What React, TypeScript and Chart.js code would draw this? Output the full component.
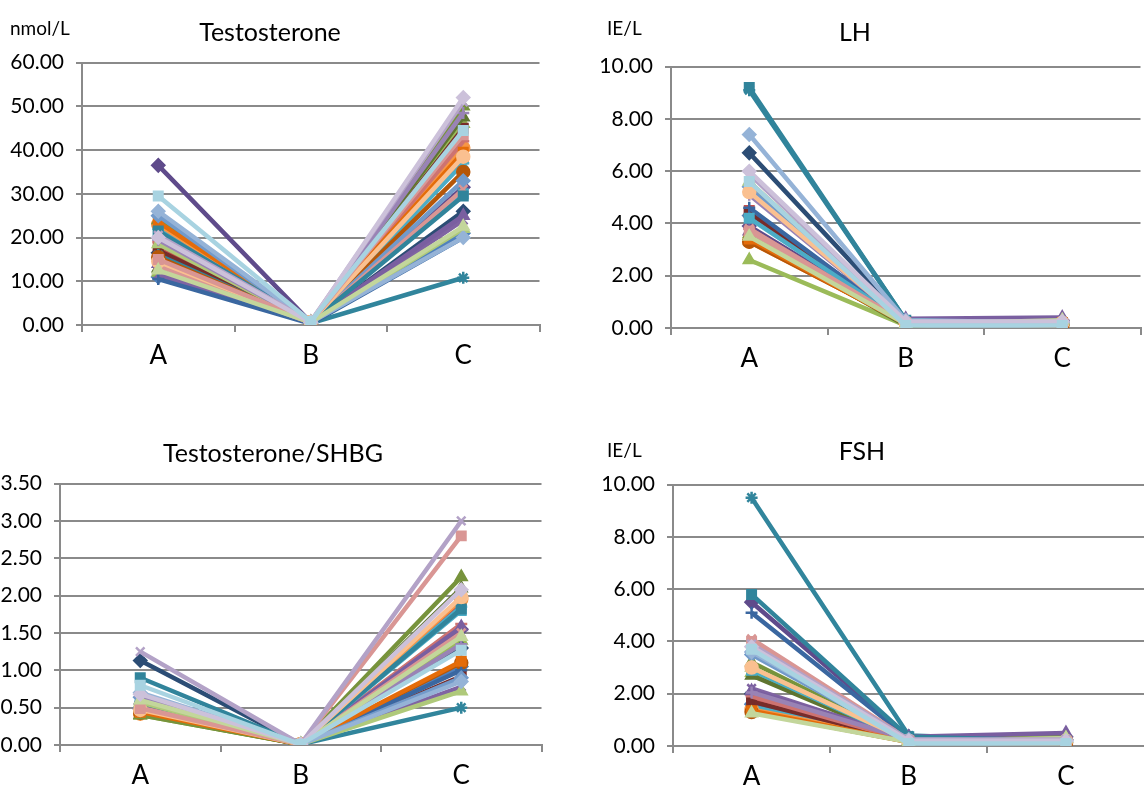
import React, { useEffect, useRef } from 'react';
import { Chart, registerables } from 'chart.js';

Chart.register(...registerables);

const FONT = 'Lato, "Open Sans", "DejaVu Sans", sans-serif';
const GRID = '#8A8A8A';

const categories = ['A', 'B', 'C'];

const subjectColors = [
  '#4F81BD', '#C0504D', '#9BBB59', '#8064A2', '#4BACC6', '#F79646',
  '#2C4D75', '#772C2A', '#5F7530', '#5F4B8B', '#31859C', '#B65708',
  '#3A67A0', '#CD7371', '#77933C', '#7A5FA0', '#4BACC6', '#E46C0A',
  '#729ACA', '#D99694', '#AFC97A', '#9983B5', '#31849B', '#FAC090',
  '#95B3D7', '#D99694', '#C3D69B', '#B3A2C7', '#CCC1DA', '#A8D3E1',
];

const subjectMarkers = [
  'rectRot', 'rect', 'triangle', 'crossRot', 'star', 'circle',
  'rectRot', 'rect', 'triangle', 'rectRot', 'star', 'circle',
  'cross', 'line', 'triangle', 'triangle', 'rect', 'rect',
  'rectRot', 'crossRot', 'triangle', 'cross', 'rect', 'circle',
  'rectRot', 'rect', 'triangle', 'crossRot', 'rectRot', 'rect',
];

// Testosterone (nmol/L)
const testoA = [11.0, 17.5, 12.0, 11.5, 22.0, 23.0, 16.5, 17.0, 13.0, 36.5, 16.0, 15.5, 10.5, 19.0, 24.0, 14.0, 21.0, 23.5, 25.0, 13.5, 18.5, 19.5, 21.5, 14.5, 26.0, 15.0, 12.5, 20.5, 20.0, 29.5];
const testoB = [0.5, 0.6, 0.4, 0.5, 0.6, 0.7, 0.5, 0.4, 0.5, 0.6, 0.4, 0.6, 0.3, 0.5, 0.6, 0.7, 0.6, 0.8, 0.5, 0.5, 0.6, 0.5, 0.6, 0.7, 0.6, 0.7, 0.6, 0.8, 0.6, 0.8];
const testoC = [21.0, 38.0, 46.0, 24.0, 37.0, 40.5, 26.0, 45.0, 47.5, 31.5, 10.8, 35.0, 20.0, 42.0, 50.0, 25.0, 30.0, 39.5, 33.0, 31.0, 22.0, 48.5, 29.5, 38.5, 20.0, 43.5, 22.5, 51.0, 52.0, 44.5];

// LH (IE/L)
const lhA = [4.3, 4.5, 2.6, 4.4, 4.3, 3.3, 6.7, 4.4, 3.5, 3.9, 9.1, 3.3, 4.6, 3.8, 3.6, 3.7, 4.2, 3.4, 5.4, 3.8, 5.6, 5.1, 9.2, 5.2, 7.4, 3.7, 3.5, 5.9, 6.0, 5.6];
const lhB = [0.15, 0.2, 0.1, 0.2, 0.15, 0.2, 0.3, 0.25, 0.1, 0.25, 0.3, 0.2, 0.15, 0.2, 0.15, 0.35, 0.2, 0.15, 0.2, 0.2, 0.15, 0.2, 0.3, 0.2, 0.3, 0.2, 0.15, 0.2, 0.25, 0.1];
const lhC = [0.15, 0.2, 0.25, 0.2, 0.15, 0.15, 0.25, 0.2, 0.3, 0.3, 0.2, 0.1, 0.15, 0.2, 0.25, 0.4, 0.15, 0.2, 0.2, 0.15, 0.25, 0.2, 0.15, 0.2, 0.2, 0.15, 0.3, 0.2, 0.25, 0.1];

// Testosterone/SHBG
const ratioA = [0.5, 0.45, 0.4, 0.47, 0.55, 0.42, 1.13, 0.44, 0.41, 0.48, 0.58, 0.43, 0.52, 0.46, 0.4, 0.6, 0.62, 0.44, 0.64, 0.5, 0.57, 0.66, 0.9, 0.47, 0.7, 0.49, 0.6, 1.25, 0.68, 0.8];
const ratioB = [0.01, 0.01, 0.01, 0.01, 0.01, 0.01, 0.01, 0.01, 0.01, 0.01, 0.01, 0.01, 0.01, 0.01, 0.01, 0.01, 0.01, 0.01, 0.01, 0.01, 0.01, 0.01, 0.01, 0.01, 0.01, 0.01, 0.01, 0.01, 0.01, 0.01];
const ratioC = [1.05, 1.88, 1.4, 0.78, 1.85, 1.95, 1.3, 0.92, 2.1, 1.55, 0.5, 1.1, 1.0, 1.62, 2.25, 1.58, 1.8, 1.12, 0.9, 1.5, 0.72, 1.35, 1.82, 1.98, 0.85, 2.8, 1.45, 3.0, 2.08, 1.27];

// FSH (IE/L)
const fshA = [1.6, 1.8, 2.8, 2.2, 1.5, 1.4, 2.0, 1.7, 2.7, 5.5, 9.5, 1.3, 5.1, 1.9, 3.2, 2.1, 2.9, 1.35, 3.5, 4.1, 3.0, 2.05, 5.8, 3.0, 3.6, 4.0, 1.25, 3.9, 3.8, 3.7];
const fshB = [0.15, 0.2, 0.15, 0.25, 0.2, 0.2, 0.3, 0.2, 0.15, 0.35, 0.4, 0.15, 0.3, 0.2, 0.2, 0.35, 0.2, 0.15, 0.2, 0.25, 0.2, 0.25, 0.35, 0.2, 0.25, 0.2, 0.15, 0.25, 0.2, 0.1];
const fshC = [0.15, 0.2, 0.3, 0.3, 0.2, 0.15, 0.25, 0.2, 0.3, 0.35, 0.2, 0.1, 0.2, 0.25, 0.35, 0.5, 0.15, 0.2, 0.2, 0.2, 0.3, 0.25, 0.2, 0.2, 0.2, 0.15, 0.3, 0.25, 0.2, 0.1];

type PanelCfg = {
  title: string;
  unit: string;
  a: number[];
  b: number[];
  c: number[];
  yMax: number;
  yStep: number;
  plotLeft: number;
  plotTop: number;
  plotWidth: number;
  plotHeight: number;
  yw: number;
  titleX: number;
  titleY: number;
  unitX: number;
  unitY: number;
};

const PAD_TOP = 20;
const XH = 60;

const panels: PanelCfg[] = [
  { title: 'Testosterone', unit: 'nmol/L', a: testoA, b: testoB, c: testoC, yMax: 60, yStep: 10,
    plotLeft: 82, plotTop: 58, plotWidth: 466, plotHeight: 267, yw: 80, titleX: 270, titleY: 31, unitX: 10, unitY: 28 },
  { title: 'LH', unit: 'IE/L', a: lhA, b: lhB, c: lhC, yMax: 10, yStep: 2,
    plotLeft: 671, plotTop: 62, plotWidth: 478, plotHeight: 266, yw: 80, titleX: 855, titleY: 31, unitX: 607, unitY: 28 },
  { title: 'Testosterone/SHBG', unit: '', a: ratioA, b: ratioB, c: ratioC, yMax: 3.5, yStep: 0.5,
    plotLeft: 60, plotTop: 479, plotWidth: 490, plotHeight: 266, yw: 60, titleX: 273, titleY: 452, unitX: 0, unitY: 0 },
  { title: 'FSH', unit: 'IE/L', a: fshA, b: fshB, c: fshC, yMax: 10, yStep: 2,
    plotLeft: 673, plotTop: 480, plotWidth: 480, plotHeight: 266, yw: 80, titleX: 862, titleY: 450, unitX: 607, unitY: 450 },
];

function Panel({ cfg }: { cfg: PanelCfg }) {
  const ref = useRef<HTMLCanvasElement | null>(null);
  const width = cfg.yw + cfg.plotWidth;
  const height = PAD_TOP + cfg.plotHeight + XH;
  const left = cfg.plotLeft - cfg.yw;
  const top = cfg.plotTop - PAD_TOP;

  useEffect(() => {
    if (!ref.current) return;
    const n = subjectColors.length;
    const datasets = subjectColors.map((col, i) => ({
      label: 'S' + (i + 1),
      data: [cfg.a[i], cfg.b[i], cfg.c[i]],
      borderColor: col,
      backgroundColor: col,
      borderWidth: 4.5,
      pointStyle: subjectMarkers[i] as any,
      pointRadius: 6,
      pointBorderWidth: 2.5,
      pointBackgroundColor: col,
      pointBorderColor: col,
      tension: 0,
      order: n - 1 - i,
    }));
    const chart = new Chart(ref.current, {
      type: 'line',
      data: { labels: categories, datasets },
      options: {
        responsive: false,
        animation: false,
        devicePixelRatio: 1,
        layout: { padding: { top: PAD_TOP, left: 0, right: 0, bottom: 0 } },
        plugins: {
          legend: { display: false },
          tooltip: { enabled: false },
          title: { display: false },
        },
        scales: {
          x: {
            type: 'category',
            offset: true,
            grid: {
              display: true,
              drawOnChartArea: false,
              drawTicks: true,
              tickLength: 7,
              color: GRID,
              lineWidth: 2,
              offset: true,
            },
            border: { display: true, color: GRID, width: 2 },
            ticks: { font: { family: FONT, size: 26 }, color: '#000', padding: 8, maxRotation: 0 },
            afterFit: (s: any) => { s.height = XH; },
          },
          y: {
            min: 0,
            max: cfg.yMax,
            ticks: {
              stepSize: cfg.yStep,
              callback: (v: any) => Number(v).toFixed(2),
              font: { family: FONT, size: 21 },
              color: '#000',
              padding: 12,
            },
            grid: { color: GRID, lineWidth: 2, tickLength: 6, drawTicks: true },
            border: { display: true, color: GRID, width: 2 },
            afterFit: (s: any) => { s.width = cfg.yw; },
          },
        },
      },
    });
    return () => chart.destroy();
  }, [cfg]);

  return (
    <>
      <canvas
        ref={ref}
        width={width}
        height={height}
        style={{ position: 'absolute', left, top, width, height }}
      />
      <div
        style={{
          position: 'absolute', left: cfg.titleX - 200, top: cfg.titleY - 16, width: 400, height: 32,
          textAlign: 'center', fontSize: 25, lineHeight: '32px', color: '#000', fontFamily: FONT,
        }}
      >
        {cfg.title}
      </div>
      {cfg.unit ? (
        <div
          style={{
            position: 'absolute', left: cfg.unitX, top: cfg.unitY - 12, height: 24,
            fontSize: 19, lineHeight: '24px', color: '#000', fontFamily: FONT, whiteSpace: 'nowrap',
          }}
        >
          {cfg.unit}
        </div>
      ) : null}
    </>
  );
}

export default function App() {
  return (
    <div
      style={{
        position: 'fixed', left: 0, top: 0, width: 1144, height: 795, overflow: 'hidden',
        background: '#fff', fontFamily: FONT,
      }}
    >
      {panels.map((p) => (
        <Panel key={p.title} cfg={p} />
      ))}
    </div>
  );
}
